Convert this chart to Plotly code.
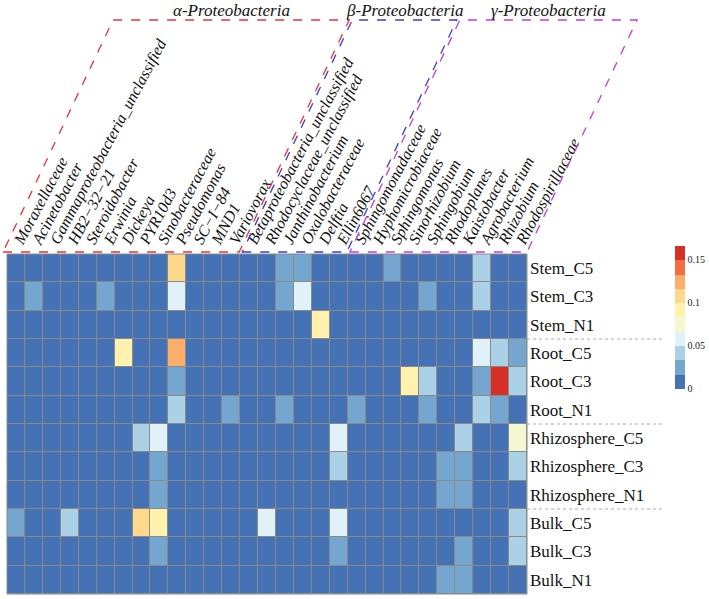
import plotly.graph_objects as go

taxa = ["Moraxellaceae", "Acinetobacter", "Gammaproteobacteria_unclassified", "HB2\u221232\u221221",
        "Steroidobacter", "Erwinia", "Dickeya", "PYR10d3", "Sinobacteraceae", "Pseudomonas",
        "SC\u2212I\u221284", "MND1", "Variovorax", "Betaproteobacteria_unclassified",
        "Rhodocyclaceae_unclassified", "Janthinobacterium", "Oxalobacteraceae", "Delftia",
        "Ellin6067", "Sphingomonadaceae", "Hyphomicrobiaceae", "Sphingomonas", "Sinorhizobium",
        "Sphingobium", "Rhodoplanes", "Kaistobacter", "Agrobacterium", "Rhizobium",
        "Rhodospirillaceae"]

samples = ["Stem_C5", "Stem_C3", "Stem_N1", "Root_C5", "Root_C3", "Root_N1",
           "Rhizosphere_C5", "Rhizosphere_C3", "Rhizosphere_N1", "Bulk_C5", "Bulk_C3", "Bulk_N1"]

# relative abundance, one list per sample (columns follow `taxa`)
stem_c5 = [0, 0, 0, 0, 0, 0, 0, 0, 0, 0.108, 0, 0, 0, 0, 0, 0.025, 0.025, 0, 0, 0, 0, 0.025, 0, 0, 0, 0, 0.042, 0, 0]
stem_c3 = [0, 0.025, 0, 0, 0, 0.025, 0, 0, 0, 0.058, 0, 0, 0, 0, 0, 0.025, 0.058, 0, 0, 0, 0, 0, 0, 0.025, 0, 0, 0.042, 0, 0]
stem_n1 = [0, 0, 0, 0, 0, 0, 0, 0, 0, 0, 0, 0, 0, 0, 0, 0, 0, 0.092, 0, 0, 0, 0, 0, 0, 0, 0, 0, 0, 0]
root_c5 = [0, 0, 0, 0, 0, 0, 0.092, 0, 0, 0.125, 0, 0, 0, 0, 0, 0, 0, 0, 0, 0, 0, 0, 0, 0, 0, 0, 0.058, 0.042, 0.025]
root_c3 = [0, 0, 0, 0, 0, 0, 0, 0, 0, 0.025, 0, 0, 0, 0, 0, 0, 0, 0, 0, 0, 0, 0, 0.092, 0.042, 0, 0, 0.025, 0.158, 0.042]
root_n1 = [0, 0, 0, 0, 0, 0, 0, 0, 0, 0.042, 0, 0, 0.025, 0, 0, 0.025, 0, 0, 0, 0.025, 0, 0, 0, 0.025, 0, 0, 0.042, 0.025, 0]
rhizo_c5 = [0, 0, 0, 0, 0, 0, 0, 0.042, 0.058, 0, 0, 0, 0, 0, 0, 0, 0, 0, 0.058, 0, 0, 0, 0, 0, 0, 0.042, 0, 0, 0.075]
rhizo_c3 = [0, 0, 0, 0, 0, 0, 0, 0, 0.025, 0, 0, 0, 0, 0, 0, 0, 0, 0, 0.042, 0, 0, 0, 0, 0, 0.025, 0.025, 0, 0, 0.042]
rhizo_n1 = [0, 0, 0, 0, 0, 0, 0, 0, 0.025, 0, 0, 0, 0, 0, 0, 0, 0, 0, 0, 0, 0, 0, 0, 0, 0.025, 0.025, 0, 0, 0]
bulk_c5 = [0.025, 0, 0, 0.042, 0, 0, 0, 0.108, 0.092, 0, 0, 0, 0, 0, 0.058, 0, 0, 0, 0.058, 0, 0, 0, 0, 0, 0, 0, 0, 0, 0.042]
bulk_c3 = [0, 0, 0, 0, 0, 0, 0, 0, 0.025, 0, 0, 0, 0, 0, 0, 0, 0, 0, 0.025, 0, 0, 0, 0, 0, 0, 0.025, 0, 0, 0.042]
bulk_n1 = [0, 0, 0, 0, 0, 0, 0, 0, 0, 0, 0, 0, 0, 0, 0, 0, 0, 0, 0, 0, 0, 0, 0, 0, 0.025, 0.025, 0, 0, 0]

z = [stem_c5, stem_c3, stem_n1, root_c5, root_c3, root_n1,
     rhizo_c5, rhizo_c3, rhizo_n1, bulk_c5, bulk_c3, bulk_n1]
for r in z:
    assert len(r) == len(taxa)

# groups: (title, first column, last column, colour)
groups = [("\u03b1-Proteobacteria", 0, 12, "#e8323c"),
          ("\u03b2-Proteobacteria", 13, 18, "#3c3cc8"),
          ("\u03b3-Proteobacteria", 19, 28, "#c83cd2")]

cb_ticks = [0, 0.05, 0.1, 0.15]
bin_colors = ["#4472b4", "#74a6d0", "#aad1e6", "#e0f2f8", "#f4f9d4",
              "#fff2ae", "#fed98b", "#fdae6b", "#f46d43", "#d73027"]
zmax = 1 / 6
n = len(bin_colors)
colorscale = []
for i, c in enumerate(bin_colors):
    colorscale.append([i / n, c])
    colorscale.append([(i + 1) / n, c])

SERIF = "Liberation Serif, Times New Roman, serif"

W, H = 709, 599
L, R, T, B = 7, 182, 254, 5
pw = W - L - R
ph = H - T - B
ncol = len(taxa)
px_per_col = pw / ncol

fig = go.Figure(go.Heatmap(
    z=z, x=list(range(ncol)), y=samples,
    zmin=0, zmax=zmax, colorscale=colorscale, xgap=1, ygap=1,
    colorbar=dict(tickvals=cb_ticks, ticktext=["0", "0.05", "0.1", "0.15"],
                  thickness=10, thicknessmode="pixels",
                  len=143, lenmode="pixels", y=(H - B - 317) / ph, yanchor="middle",
                  x=(675 - L) / pw, xanchor="left", outlinewidth=0, ticks="",
                  xpad=0, ypad=0,
                  tickfont=dict(family=SERIF, size=10, color="#222")),
))

fig.update_layout(
    width=W, height=H, margin=dict(l=L, r=R, t=T, b=B, autoexpand=False),
    paper_bgcolor="white", plot_bgcolor="#8a8a8a",
    xaxis=dict(side="top", tickmode="array", tickvals=list(range(ncol)), ticktext=taxa,
               tickangle=-62, showgrid=False, zeroline=False, ticks="", automargin=False,
               range=[-0.5, ncol - 0.5],
               tickfont=dict(family=SERIF, size=16, style="italic", color="#111")),
    yaxis=dict(side="right", autorange="reversed", showgrid=False, zeroline=False, ticks="",
               automargin=False, ticklabelstandoff=2,
               tickfont=dict(family=SERIF, size=17, color="#111")),
    showlegend=False,
)

# outer border
fig.add_shape(type="rect", xref="paper", yref="paper", x0=0, x1=1, y0=0, y1=1,
              line=dict(color="#8a8a8a", width=1))

# dotted separators between tissue groups
for yb in [2.5, 5.5, 8.5]:
    fig.add_shape(type="line", xref="paper", yref="y", x0=1.0, x1=(665 - L) / pw, y0=yb, y1=yb,
                  line=dict(color="#aaaaaa", width=1, dash="dot"))


def col_to_paper(c):
    # column-index coordinate -> paper fraction along the x axis
    return (c + 0.5) / ncol


# group parallelograms
y_bot = 1 + 2 / ph
y_top = 1 + (T - 20) / ph
shift = 110 / px_per_col
for k, (title, c0, c1, col) in enumerate(groups):
    left = c0 - 0.5 + (0.12 if k > 0 else -0.22)
    right = c1 + 0.5 - (0.05 if k < len(groups) - 1 else 0)
    pts = [(left, y_bot), (right, y_bot), (right + shift, y_top), (left + shift, y_top)]
    path = "M " + " L ".join(f"{col_to_paper(x)},{y}" for x, y in pts) + " Z"
    fig.add_shape(type="path", xref="paper", yref="paper", path=path,
                  line=dict(color=col, width=1.3, dash="dash"))
    fig.add_annotation(x=col_to_paper((left + right) / 2 + shift), y=y_top,
                       xref="paper", yref="paper", xanchor="center",
                       text=title, showarrow=False, yanchor="bottom", yshift=-2,
                       font=dict(family=SERIF, size=17, style="italic", color="#111"))

fig.write_html("out.html", config={"displayModeBar": False},
               post_script="document.body.style.margin='0px';document.body.style.overflow='hidden';")
